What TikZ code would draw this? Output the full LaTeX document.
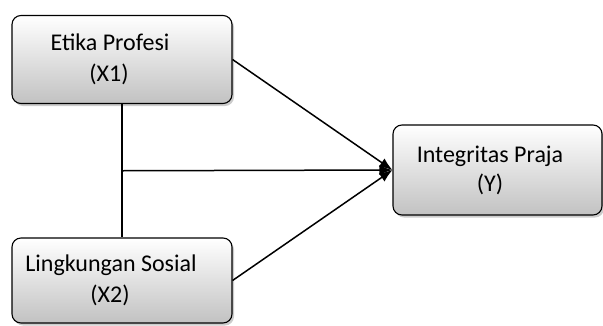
\documentclass[tikz,border=0pt]{standalone}
\usepackage{fontspec}
\setmainfont{Carlito}
\usetikzlibrary{positioning, arrows.meta, calc, shadows}

\begin{document}
\begin{tikzpicture}[
  x=1pt, y=-1pt,
  font=\fontsize{24}{28}\selectfont,
  var/.style={draw, rounded corners=9pt, line width=1.1pt,
              top color=white, bottom color=black!24,
              drop shadow={shadow xshift=2pt, shadow yshift=-2.5pt, opacity=0.4},
              minimum width=220pt, minimum height=88pt, align=center},
  link/.style={-{Latex[length=13pt, width=10pt]}, line width=1.5pt},
]
\useasboundingbox (0,0) rectangle (603,325);

\node[var] (x1) at (122,59.5)
    {Etika Profesi\hspace*{24pt}\\[3pt](X1)\hspace*{26pt}};
\node[var, minimum height=85pt] (x2) at (122,280.5)
    {Lingkungan Sosial\hspace*{22pt}\\[3pt](X2)\hspace*{24pt}};
\node[var, minimum width=209pt, minimum height=90pt] (y) at (497.5,170)
    {Integritas Praja\hspace*{15pt}\\[1pt](Y)\hspace*{15pt}};

\coordinate (mid) at ($(x1.south)!0.5!(x2.north)$);

\draw[line width=1.5pt] (x1.south) -- (x2.north);
\draw[link] (mid) -- (y.west);
\draw[link] (x1.east) -- (y.west);
\draw[link] (x2.east) -- (y.west);

\end{tikzpicture}
\end{document}
